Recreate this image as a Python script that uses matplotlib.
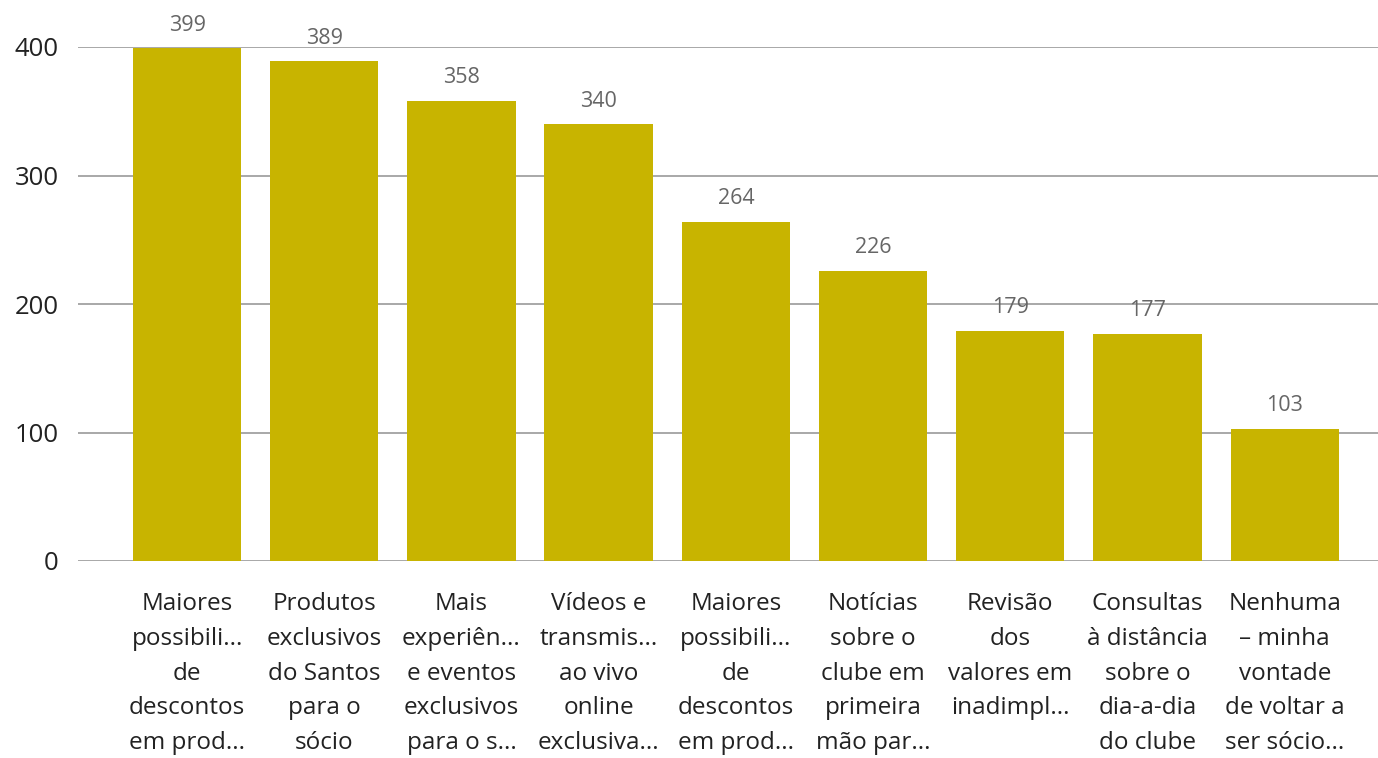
import matplotlib.pyplot as plt

plt.rcParams['font.family'] = ['Open Sans', 'DejaVu Sans']

# Data
labels = ['Maiores\npossibili...\nde\ndescontos\nem prod...',
          'Produtos\nexclusivos\ndo Santos\npara o\nsócio',
          'Mais\nexperiên...\ne eventos\nexclusivos\npara o s...',
          'Vídeos e\ntransmis...\nao vivo\nonline\nexclusiva...',
          'Maiores\npossibili...\nde\ndescontos\nem prod...',
          'Notícias\nsobre o\nclube em\nprimeira\nmão par...',
          'Revisão\ndos\nvalores em\ninadimpl...\n',
          'Consultas\nà distância\nsobre o\ndia-a-dia\ndo clube',
          'Nenhuma\n– minha\nvontade\nde voltar a\nser sócio...']
values = [399, 389, 358, 340, 264, 226, 179, 177, 103]
yticks = [0, 100, 200, 300, 400]

fig = plt.figure(figsize=(13.78, 7.58), dpi=100)
ax = fig.add_axes([78 / 1378, 1 - 561 / 758, 1300 / 1378, 514 / 758])

x = range(len(values))
bars = ax.bar(x, values, width=0.79, color='#C8B400', zorder=3)
for xi, v in zip(x, values):
    ax.annotate(str(v), (xi, v), xytext=(0, 9), textcoords='offset points',
                ha='center', va='bottom', fontsize=15.5, color='#666666')

ax.set_xlim(-0.795, 8.68)
ax.set_ylim(0, 400)
ax.set_yticks(yticks)
ax.set_xticks(list(x))
ax.set_xticklabels(labels, fontsize=17.5, color='#222222', linespacing=1.61, va='top')
ax.tick_params(axis='y', labelsize=18.5, colors='#222222', length=0, pad=14)
ax.tick_params(axis='x', length=0, pad=22)
ax.grid(axis='y', color='#9a9a9a', linewidth=1.2, zorder=0)
for s in ax.spines.values():
    s.set_visible(False)

fig.savefig('out.png', dpi=100)
